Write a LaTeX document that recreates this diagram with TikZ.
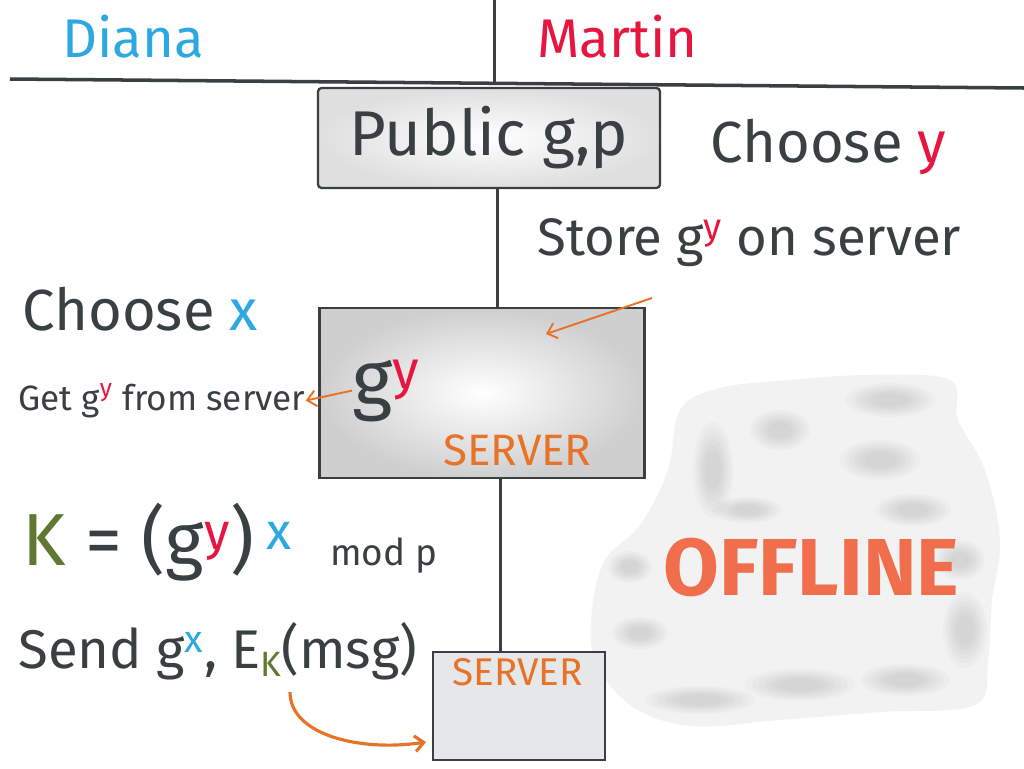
\documentclass[tikz,border=0pt]{standalone}
\usepackage{fontspec}
\setmainfont{Fira Sans}
\usetikzlibrary{arrows.meta,positioning,shadings}
\definecolor{ink}{RGB}{58,63,66}
\definecolor{dblue}{RGB}{45,168,225}
\definecolor{mred}{RGB}{230,22,64}
\definecolor{kgreen}{RGB}{95,120,50}
\definecolor{orng}{RGB}{230,115,40}
\definecolor{offorng}{RGB}{240,110,75}
\definecolor{boxgray}{RGB}{230,231,233}
\newcommand{\fs}[1]{\fontsize{#1}{#1}\selectfont}
\newcommand{\hi}[2]{\textsuperscript{\color{#1}#2}}
\newcommand{\lo}[2]{\raisebox{-0.3ex}{\fs{20}\color{#1}#2}}

\begin{document}
\begin{tikzpicture}[x=0.02cm, y=-0.02cm,
    spine/.style={draw=ink, line width=1.7pt},
    txt/.style={anchor=base west, text=ink, inner sep=0pt},
    box/.style={draw=ink, line width=1.3pt},
    oarr/.style={-{Straight Barb[length=5pt,width=9pt]}, draw=orng, line width=1.1pt},
    blob/.style={fill=gray, fill opacity=0.045}
]
    \useasboundingbox (0,0) rectangle (1024,768);

    % offline cloud
    \fill[gray!10] plot[smooth cycle, tension=0.6] coordinates {(592,610) (605,560) (640,525) (668,470) (680,410) (720,388) (790,380) (870,375) (950,380) (958,420) (985,470) (1000,540) (992,600) (988,660) (975,705) (880,712) (780,720) (690,726) (630,705) (595,660)};
    \foreach \cx/\cy/\rx/\ry in {890/400/45/17, 880/460/40/20, 713/470/20/48, 630/567/22/16, 640/633/28/16, 700/700/55/14, 800/685/55/16, 905/680/45/16, 965/630/22/38, 747/510/35/13, 913/510/38/16, 780/430/30/20, 960/560/25/20}
        \foreach \s in {1,0.88,0.76,0.64,0.52,0.4}
            \fill[blob] (\cx,\cy) ellipse [x radius=\s*\rx, y radius=\s*\ry];

    % swimlane header
    \coordinate (hl) at (10,79);
    \coordinate (hr) at (1024,88);
    \coordinate (top) at (494,0);
    \coordinate (mid) at (494,84);
    \coordinate (spineA) at (497,0);
    \coordinate (spineB) at (500,0);
    \draw[spine, line width=2pt] (hl) -- (hr);
    \draw[spine] (top) -- (mid);

    \node[txt, text=dblue, font=\fs{31}] (diana) at (62,57) {Diana};
    \node[txt, text=mred, font=\fs{31}] (martin) at (537,57) {Martin};

    \node[box, inner color=white, outer color=gray!25, minimum width=6.84cm, minimum height=2cm,
        rounded corners=2pt, font=\fs{36}, text=ink] (public) at (489,138) {Public g,p};
    \node[box, inner color=white, outer color=gray!38, minimum width=6.5cm, minimum height=3.4cm] (srvA) at (482,393) {};
    \node[box, fill=boxgray, minimum width=3.44cm, minimum height=2.16cm] (srvB) at (519,706) {};
    \draw[spine] (public.south -| spineA) -- (srvA.north -| spineA);
    \draw[spine] (srvA.south -| spineB) -- (srvB.north -| spineB);

    % Martin
    \node[txt, font=\fs{33}] (chooseY) at (710,162) {Choose \textcolor{mred}{y}};
    \node[txt, font=\fs{30}] (store) at (537,255) {Store g\hi{mred}{y} on server};

    % server contents
    \node[txt, font=\fs{44}] (gyA) at (352,405) {g\hi{mred}{y}};
    \node[txt, text=orng, font=\fs{25}] (srvAlbl) at (443,465) {SERVER};
    \node[txt, text=orng, font=\fs{22}] (srvBlbl) at (452,685) {SERVER};

    % Diana
    \node[txt, font=\fs{33}] (chooseX) at (22,330) {Choose \textcolor{dblue}{x}};
    \node[txt, font=\fs{20}] (get) at (18,410) {Get g\hi{mred}{y} from server};
    \node[txt, font=\fs{42}] (key) at (22,565) {\textcolor{kgreen}{K} = (g\hi{mred}{y})\,\hi{dblue}{x}};
    \node[txt, font=\fs{21}] (modp) at (330,565) {mod p};
    \node[txt, font=\fs{31}] (send) at (18,668) {Send g\hi{dblue}{x}, E\lo{kgreen}{K}(msg)};

    \node[txt, text=offorng, font=\fs{46}\bfseries] (offline) at (663,595) {OFFLINE};

    % orange arrows
    \coordinate (storeTail) at (652,298);
    \coordinate (srvAhit) at (546,334);
    \coordinate (ek) at (290,692);
    \coordinate (sendIn) at (426,742);
    \draw[oarr] (storeTail) -- (srvAhit);
    \draw[oarr] (gyA.west) -- (get.east);
    \draw[oarr, line width=1.8pt] (ek) .. controls (290,735) and (360,752) .. (sendIn);
\end{tikzpicture}
\end{document}
